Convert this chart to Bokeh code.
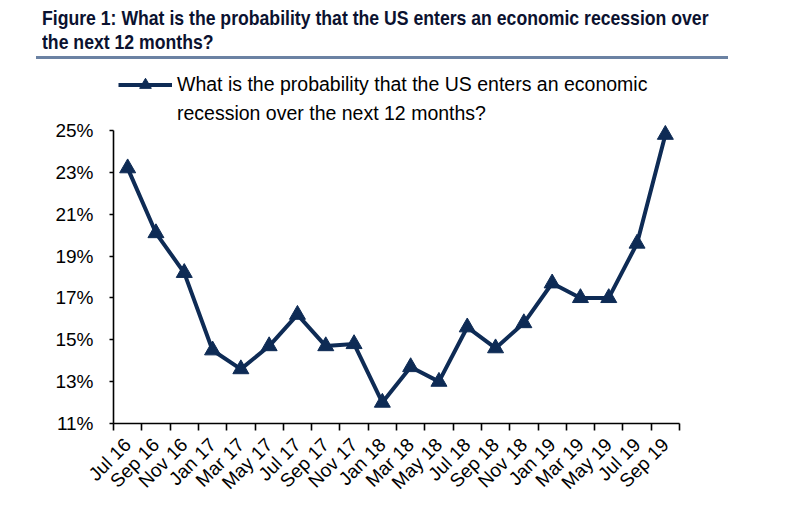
import math
from bokeh.plotting import figure
from bokeh.models import (ColumnDataSource, FixedTicker, Legend, LegendItem, Div, Range1d)
from bokeh.layouts import column
from bokeh.embed import file_html
from bokeh.resources import INLINE

# ---- data ----
months = ["Jul 16", "Sep 16", "Nov 16", "Jan 17", "Mar 17", "May 17", "Jul 17",
          "Sep 17", "Nov 17", "Jan 18", "Mar 18", "May 18", "Jul 18", "Sep 18",
          "Nov 18", "Jan 19", "Mar 19", "May 19", "Jul 19", "Sep 19"]
probability = [23.2, 20.1, 18.2, 14.5, 13.6, 14.7, 16.2, 14.7, 14.8, 12.0,
               13.7, 13.0, 15.6, 14.6, 15.8, 17.7, 17.0, 17.0, 19.6, 24.8]
y_ticks = [11, 13, 15, 17, 19, 21, 23, 25]
y_tick_labels = ["11%", "13%", "15%", "17%", "19%", "21%", "23%", "25%"]
title_line1 = "Figure 1: What is the probability that the US enters an economic recession over"
title_line2 = "the next 12 months?"
series_line1 = "What is the probability that the US enters an economic"
series_line2 = "recession over the next 12 months?"

NAVY = "#0e2b55"
x_pos = [i + 0.5 for i in range(len(months))]
src = ColumnDataSource(dict(x=x_pos, y=probability, m=months))

title_html = (
    '<div style="margin-left:36px;width:692px;height:59px;'
    'border-bottom:3px solid #6b82a3;box-sizing:border-box;'
    'padding:6px 0 0 6px;white-space:nowrap;overflow:visible;">'
    '<div style="transform:scaleX(0.84);transform-origin:0 0;'
    "font-family:'Liberation Sans',sans-serif;font-weight:bold;"
    'font-size:21px;line-height:24px;color:#0b1230;">'
    f'{title_line1}<br>{title_line2}</div></div>'
)
div = Div(text=title_html, width=801, height=60, margin=0)

# frame spans from the legend area (top) down to the 11% baseline;
# the y-axis line itself is bounded to 11%..25%
y_top = 25 + 60 / 20.93
p = figure(width=801, height=455, output_backend="svg", toolbar_location=None,
           x_range=Range1d(0, len(months)), y_range=Range1d(11, y_top),
           min_border_left=113, min_border_right=122, min_border_top=10,
           min_border_bottom=92, background_fill_color="white",
           border_fill_color="white", outline_line_color=None, margin=0)
p.grid.visible = False

line = p.line("x", "y", source=src, line_color=NAVY, line_width=4)
pts = p.scatter("x", "y", source=src, marker="triangle", size=16,
                fill_color=NAVY, line_color=NAVY)

# axes
for ax in (p.xaxis[0], p.yaxis[0]):
    ax.axis_line_color = "black"
    ax.axis_line_width = 1.6
    ax.major_tick_line_color = "black"
    ax.major_tick_line_width = 1.6
    ax.minor_tick_line_color = "black"
    ax.minor_tick_line_width = 1.6
    ax.major_label_text_font = "Liberation Sans"
    ax.major_label_text_color = "black"

p.xaxis.ticker = FixedTicker(ticks=x_pos, minor_ticks=list(range(len(months) + 1)))
p.xaxis.major_label_overrides = {x: m for x, m in zip(x_pos, months)}
p.xaxis.major_tick_out = 0
p.xaxis.major_tick_in = 0
p.xaxis.minor_tick_out = 7
p.xaxis.minor_tick_in = 0
p.xaxis.major_label_orientation = math.pi / 4
p.xaxis.major_label_standoff = 11
p.xaxis.major_label_text_font_size = "19px"

p.yaxis.ticker = FixedTicker(ticks=y_ticks, minor_ticks=[])
p.yaxis.bounds = (y_ticks[0], y_ticks[-1])
p.yaxis.major_label_overrides = {t: l for t, l in zip(y_ticks, y_tick_labels)}
p.yaxis.major_tick_out = 4
p.yaxis.major_tick_in = 0
p.yaxis.major_label_standoff = 16
p.yaxis.major_label_text_font_size = "19px"

legend = Legend(items=[LegendItem(label=series_line1, renderers=[line, pts]),
                       LegendItem(label=series_line2, renderers=[])],
                location=(5, 295), orientation="vertical",
                glyph_width=54, glyph_height=29, label_height=29, label_standoff=5,
                label_text_font="Liberation Sans", label_text_font_size="19.5px",
                label_text_color="black",
                padding=0, margin=0, spacing=0,
                border_line_color=None, background_fill_alpha=0)
p.add_layout(legend, "center")

layout = column(div, p, spacing=0)
open("out.html", "w").write(file_html(layout, INLINE))
